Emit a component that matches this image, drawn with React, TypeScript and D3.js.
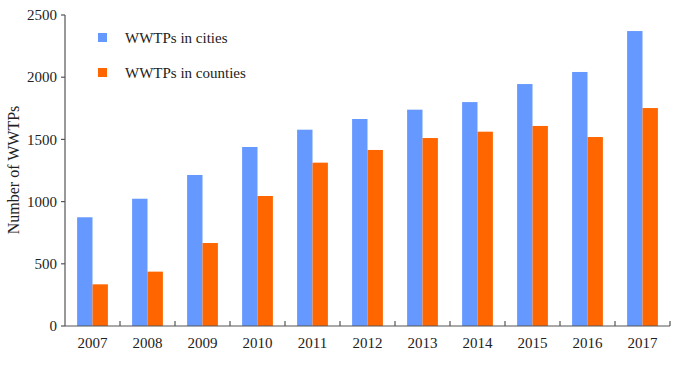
import { useEffect, useRef } from "react";
import * as d3 from "d3";

const years = ["2007", "2008", "2009", "2010", "2011", "2012", "2013", "2014", "2015", "2016", "2017"];
const cities = [874, 1023, 1214, 1439, 1578, 1664, 1739, 1800, 1945, 2042, 2371];
const counties = [335, 437, 667, 1045, 1313, 1415, 1511, 1562, 1608, 1519, 1752];
const seriesNames = ["WWTPs in cities", "WWTPs in counties"];
const colors = ["#6699FF", "#FF6600"];
const yTicks = [0, 500, 1000, 1500, 2000, 2500];

const width = 677;
const height = 368;

const App = () => {
  const ref = useRef<SVGSVGElement>(null);

  useEffect(() => {
    if (!ref.current) return;
    document.body.style.margin = "0";
    const svg = d3.select(ref.current);
    svg.selectAll("*").remove();

    const margin = { top: 15, right: 7, bottom: 42, left: 65 };
    const innerW = width - margin.left - margin.right;
    const innerH = height - margin.top - margin.bottom;
    const font = "'Liberation Serif', 'Times New Roman', serif";
    const axisColor = "#555";

    const g = svg.append("g").attr("transform", `translate(${margin.left},${margin.top})`);

    const x0 = d3.scaleBand<string>().domain(years).range([0, innerW]).padding(0);
    const groupW = x0.bandwidth() * 0.56;
    const x1 = d3
      .scaleBand<string>()
      .domain(seriesNames)
      .range([(x0.bandwidth() - groupW) / 2, (x0.bandwidth() + groupW) / 2]);
    const y = d3.scaleLinear().domain([0, 2500]).range([innerH, 0]);

    const rows = years.map((yr, i) => ({ yr, vals: [cities[i], counties[i]] }));

    // bars
    const groups = g
      .selectAll(".grp")
      .data(rows)
      .enter()
      .append("g")
      .attr("transform", (d) => `translate(${x0(d.yr)},0)`);

    groups
      .selectAll("rect")
      .data((d) => d.vals.map((v, j) => ({ v, j })))
      .enter()
      .append("rect")
      .attr("x", (d) => x1(seriesNames[d.j]) as number)
      .attr("width", x1.bandwidth())
      .attr("y", (d) => y(d.v))
      .attr("height", (d) => innerH - y(d.v))
      .attr("fill", (d) => colors[d.j]);

    // y axis
    g.append("line")
      .attr("x1", 0)
      .attr("x2", 0)
      .attr("y1", 0)
      .attr("y2", innerH)
      .attr("stroke", axisColor)
      .attr("stroke-width", 1.2);

    yTicks.forEach((t) => {
      g.append("line")
        .attr("x1", -4)
        .attr("x2", 0)
        .attr("y1", y(t))
        .attr("y2", y(t))
        .attr("stroke", axisColor)
        .attr("stroke-width", 1.2);
      g.append("text")
        .attr("x", -8)
        .attr("y", y(t))
        .attr("dy", "0.35em")
        .attr("text-anchor", "end")
        .style("font-family", font)
        .style("font-size", "15px")
        .attr("fill", "#222")
        .text(t);
    });

    // x axis
    g.append("line")
      .attr("x1", 0)
      .attr("x2", innerW)
      .attr("y1", innerH)
      .attr("y2", innerH)
      .attr("stroke", axisColor)
      .attr("stroke-width", 1.2);

    years.forEach((yr) => {
      const xe = (x0(yr) as number) + x0.bandwidth();
      g.append("line")
        .attr("x1", xe)
        .attr("x2", xe)
        .attr("y1", innerH)
        .attr("y2", innerH - 5)
        .attr("stroke", axisColor)
        .attr("stroke-width", 1.2);
      g.append("text")
        .attr("x", (x0(yr) as number) + x0.bandwidth() / 2)
        .attr("y", innerH + 17)
        .attr("dy", "0.35em")
        .attr("text-anchor", "middle")
        .style("font-family", font)
        .style("font-size", "15px")
        .attr("fill", "#222")
        .text(yr);
    });

    // y label
    svg
      .append("text")
      .attr("transform", `translate(13,170) rotate(-90)`)
      .attr("dy", "0.35em")
      .attr("text-anchor", "middle")
      .style("font-family", font)
      .style("font-size", "16px")
      .attr("fill", "#222")
      .text("Number of WWTPs");

    // legend
    const legend = svg.append("g").attr("transform", "translate(98,33)");
    seriesNames.forEach((name, i) => {
      legend
        .append("rect")
        .attr("x", 0)
        .attr("y", i * 35)
        .attr("width", 9)
        .attr("height", 9)
        .attr("fill", colors[i]);
      legend
        .append("text")
        .attr("x", 27)
        .attr("y", i * 35 + 5)
        .attr("dy", "0.35em")
        .style("font-family", font)
        .style("font-size", "15px")
        .attr("fill", "#222")
        .text(name);
    });
  }, []);

  return <svg ref={ref} width={width} height={height} style={{ display: "block" }} />;
};

export default App;
